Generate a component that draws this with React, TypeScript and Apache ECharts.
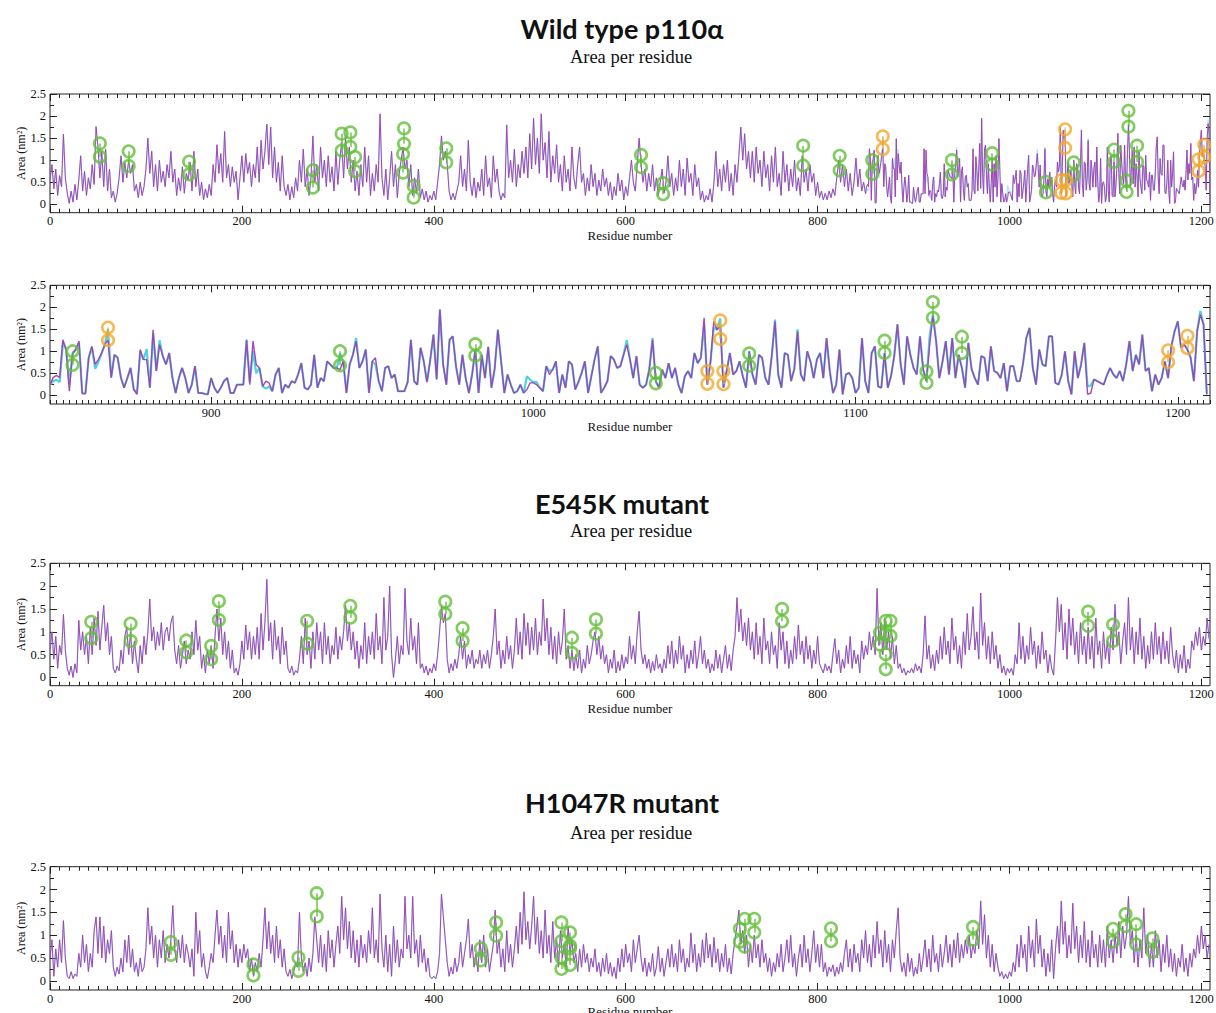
import React, { useEffect, useRef } from "react";
import * as echarts from "echarts";

// ---------- DATA ----------
// Wild type, residues 0..848, every 2nd residue
const WT_A_START = 0;
const WT_A_STEP = 2;
const WT_A = [
  0.55,0.9,0.35,0.8,0.2,0.65,0.4,1.59,0.6,0.25,0.02,0.3,0.05,0.45,0.1,0.55,1.1,0.3,0.75,0.2,0.6,0.35,0.9,0.45,1.76,
  1.3,0.6,1.2,0.4,1.25,0.3,0.8,0.15,0.3,0.05,0.25,0.6,1.1,0.5,0.95,0.6,1.0,0.7,0.9,0.3,0.45,0.15,0.5,0.2,0.4,
  0.8,1.5,0.7,1.2,0.4,0.9,0.3,1.0,0.5,0.75,0.4,0.9,0.6,1.2,0.5,0.8,0.2,0.6,0.3,0.85,0.25,0.7,0.55,0.95,0.3,
  1.2,0.4,0.8,0.2,0.5,0.1,0.35,0.15,0.45,0.2,0.9,0.5,1.35,0.7,1.15,0.5,1.65,0.6,0.9,0.4,0.85,0.5,0.75,0.1,0.6,
  1.1,0.5,1.15,0.7,0.95,0.4,0.9,0.6,1.3,0.5,1.45,0.8,1.2,1.82,0.9,1.75,0.6,1.3,0.5,0.95,0.3,1.1,0.4,0.2,0.45,
  0.1,0.4,0.15,0.6,0.3,1.0,0.5,1.25,0.4,0.8,0.2,0.6,1.55,0.5,0.9,0.3,1.3,0.6,1.0,0.4,1.1,0.5,0.85,0.3,1.2,
  0.45,1.0,1.4,0.6,1.5,0.8,1.3,0.5,1.0,0.3,0.75,0.2,0.9,0.4,1.3,0.5,1.1,0.2,0.7,0.3,0.9,0.5,2.05,0.6,0.2,
  0.8,0.1,0.6,1.2,0.4,0.9,0.15,0.7,1.0,1.3,0.8,1.0,0.4,0.9,0.2,0.6,0.25,0.8,0.15,0.35,0.1,0.3,0.05,0.2,0.1,
  0.3,0.1,0.5,0.9,1.55,1.0,1.2,0.9,0.3,0.1,0.25,0.1,0.3,0.5,1.1,0.4,0.8,0.3,1.45,0.5,0.2,0.6,0.15,0.5,0.3,
  0.8,0.2,1.1,0.4,0.6,0.15,1.1,0.5,0.8,0.3,0.1,0.25,0.15,1.8,0.6,1.0,0.5,1.25,0.4,0.9,0.6,1.2,0.7,1.3,0.6,
  1.6,0.8,1.95,0.9,1.5,0.7,2.05,1.0,1.4,0.6,1.65,0.5,1.1,0.7,1.35,0.5,0.9,0.3,1.1,0.5,0.8,0.3,1.3,0.6,0.35,
  0.9,1.3,0.5,0.7,0.2,0.6,0.3,0.9,0.4,0.7,0.2,0.55,0.3,0.8,0.4,0.6,0.2,0.5,0.1,0.4,0.2,0.7,0.3,0.55,0.1,
  0.4,0.2,0.6,1.0,0.5,0.3,0.9,1.5,0.9,0.5,0.8,0.3,0.7,0.4,0.9,0.3,0.6,0.2,0.5,0.8,0.25,0.5,1.1,0.4,0.7,
  0.2,0.6,0.3,1.0,0.4,0.8,0.2,1.05,0.5,0.7,0.2,0.9,0.4,0.6,0.1,0.3,0.05,0.2,0.1,0.35,0.05,0.5,1.2,0.4,0.8,
  0.3,0.9,0.5,1.0,0.3,0.7,0.2,0.9,0.5,1.1,1.75,1.0,1.6,0.8,1.2,0.6,1.2,0.5,1.3,0.7,1.0,0.4,1.2,0.6,0.9,
  0.3,1.1,0.5,1.3,0.4,0.7,0.2,1.2,0.5,0.9,0.3,0.8,0.4,1.0,0.3,0.6,0.2,1.1,0.5,0.8,0.3,0.9,0.5,0.7,0.2,
  0.5,0.15,0.3,0.1,0.25,0.1,0.3,0.15,0.35,0.2,0.6,1.0,0.5,0.9,0.4,0.8,0.3,0.7,0.2,0.5,1.05,0.4,0.8,0.3,0.5,
];

// Wild type, residues 850..1209, every residue - purple
const WT_B_START = 850;
const WT_B = [
  0.24,0.40,0.45,0.40,1.26,1.04,0.09,0.95,1.04,1.23,
  0.03,0.03,0.85,1.11,0.70,0.81,0.95,1.15,1.26,0.40,
  0.92,0.85,0.40,0.17,0.39,0.62,0.13,0.02,1.04,0.81,
  0.81,0.17,1.49,0.55,1.15,0.89,0.70,0.96,0.39,0.05,
  0.39,0.62,0.39,0.05,0.24,0.66,0.05,0.05,0.03,0.02,
  0.39,0.17,0.05,0.17,0.32,0.39,0.05,0.05,0.24,0.24,
  0.24,1.26,0.24,1.23,0.70,0.62,0.20,0.32,0.28,0.09,
  0.47,0.62,0.05,0.24,0.17,0.32,0.28,0.47,0.73,0.17,
  0.13,0.24,0.92,0.17,0.39,0.32,0.77,0.70,0.62,0.62,
  0.58,0.77,0.05,0.70,0.92,1.23,0.62,0.77,1.04,0.05,
  0.77,0.85,0.32,0.09,0.62,0.66,0.39,0.47,0.09,0.09,
  0.09,0.30,1.26,0.32,0.24,1.08,0.77,0.30,0.80,1.38,
  0.36,1.95,0.70,0.24,1.26,1.34,0.66,0.24,0.92,0.39,
  0.05,0.47,1.04,0.05,0.92,0.39,1.10,0.17,0.60,1.49,
  0.77,0.05,0.47,0.24,0.05,0.09,0.24,0.05,0.13,0.28,
  0.28,0.24,0.17,0.09,0.66,0.47,0.58,0.77,0.05,0.47,
  0.17,0.77,0.70,0.13,0.30,0.51,0.77,0.05,0.43,0.81,
  1.11,0.05,0.17,0.32,0.89,0.81,0.62,0.66,0.92,1.15,
  0.81,0.39,0.89,0.24,0.17,0.24,0.60,1.26,0.32,0.17,
  0.58,0.39,0.73,0.39,0.62,0.24,0.05,0.43,0.55,0.39,
  0.96,0.73,0.85,1.76,0.24,0.77,1.68,1.49,1.57,0.17,
  0.55,0.96,0.47,0.55,0.77,0.43,0.17,1.00,0.47,0.24,
  0.92,0.85,0.39,0.24,0.90,1.68,0.47,0.17,0.96,0.92,
  0.32,0.60,1.45,0.47,0.32,1.00,0.77,0.39,0.81,0.96,
  0.39,1.30,0.55,0.05,0.24,1.04,0.02,0.47,0.51,0.39,
  0.05,0.17,1.30,0.32,0.05,0.96,1.11,0.20,0.17,0.96,
  0.17,0.43,0.89,1.61,0.70,0.24,1.34,0.92,0.62,0.47,
  1.34,0.58,0.32,1.15,1.80,1.23,0.39,0.77,1.23,0.47,
  1.30,0.39,0.92,0.62,0.17,1.19,0.60,0.39,0.24,0.89,
  0.85,0.32,1.11,0.55,0.51,0.39,0.73,0.09,0.66,0.66,
  0.32,0.32,0.73,1.30,1.53,0.62,0.24,1.04,0.70,0.66,
  1.34,1.34,0.28,0.24,0.47,1.00,0.32,0.02,1.00,0.39,
  0.70,1.19,0.02,0.05,0.36,0.32,0.28,0.24,0.45,0.62,
  0.47,0.39,0.55,0.32,0.70,1.23,0.55,0.92,0.70,1.38,
  0.55,0.62,0.09,0.47,0.24,0.39,0.77,0.39,1.11,1.45,
  1.68,1.08,1.15,1.04,0.85,0.32,1.45,1.83,1.61,0.02,
];

// Wild type, residues 850..1209 - cyan
const WT_B_CYAN = [
  0.24,0.32,0.35,0.30,1.20,1.04,0.25,0.95,1.04,1.20,
  0.05,0.05,0.85,1.10,0.60,0.75,0.95,1.15,1.50,0.40,
  0.92,0.85,0.40,0.17,0.39,0.62,0.13,0.05,1.00,0.81,
  1.05,0.17,1.40,0.55,1.25,0.89,0.70,0.96,0.39,0.05,
  0.39,0.62,0.39,0.05,0.24,0.66,0.05,0.05,0.03,0.02,
  0.39,0.17,0.05,0.17,0.32,0.39,0.05,0.05,0.24,0.24,
  0.24,1.26,0.30,1.00,0.50,0.62,0.20,0.15,0.20,0.09,
  0.47,0.62,0.05,0.24,0.17,0.32,0.28,0.47,0.73,0.17,
  0.13,0.24,0.92,0.17,0.39,0.32,0.77,0.70,0.62,0.62,
  0.95,0.77,0.05,0.70,0.92,1.30,0.62,0.77,1.04,0.05,
  0.77,0.70,0.32,0.09,0.62,0.66,0.39,0.47,0.09,0.09,
  0.09,0.30,1.26,0.32,0.24,1.08,0.77,0.30,0.80,1.38,
  0.36,1.95,0.70,0.24,1.26,1.34,0.66,0.24,0.92,0.39,
  0.05,0.47,1.04,0.05,0.92,0.39,1.10,0.17,0.60,1.49,
  0.77,0.05,0.47,0.24,0.05,0.09,0.24,0.05,0.43,0.35,
  0.30,0.30,0.17,0.09,0.66,0.55,0.58,0.77,0.05,0.47,
  0.17,0.77,0.70,0.13,0.30,0.51,0.77,0.05,0.43,0.81,
  1.11,0.05,0.17,0.32,0.89,0.81,0.62,0.66,0.92,1.25,
  0.81,0.39,0.89,0.24,0.17,0.24,0.60,1.30,0.32,0.17,
  0.58,0.39,0.73,0.39,0.62,0.24,0.05,0.43,0.55,0.39,
  0.96,0.73,0.85,1.60,0.24,0.77,1.55,1.49,1.75,0.17,
  0.55,0.96,0.47,0.55,0.77,0.43,0.17,1.00,0.47,0.24,
  0.92,0.85,0.39,0.24,0.90,1.72,0.47,0.17,0.96,0.92,
  0.32,0.60,1.50,0.47,0.32,1.00,0.77,0.39,0.81,0.96,
  0.39,1.30,0.55,0.05,0.24,1.04,0.02,0.47,0.51,0.39,
  0.05,0.17,1.30,0.32,0.05,0.96,1.11,0.20,0.17,0.96,
  0.17,0.43,0.89,1.61,0.70,0.24,1.34,0.92,0.62,0.47,
  1.34,0.58,0.32,1.35,1.85,1.23,0.39,0.77,1.23,0.47,
  1.30,0.39,0.92,0.62,0.17,1.19,0.60,0.39,0.24,0.89,
  0.85,0.32,1.11,0.55,0.51,0.39,0.73,0.09,0.66,0.66,
  0.32,0.32,0.73,1.30,1.53,0.62,0.24,1.04,0.70,0.66,
  1.34,1.34,0.28,0.24,0.47,1.00,0.32,0.02,1.00,0.39,
  0.70,1.19,0.20,0.22,0.36,0.32,0.28,0.24,0.45,0.62,
  0.47,0.39,0.55,0.32,0.70,1.23,0.55,0.92,0.70,1.38,
  0.55,0.62,0.09,0.47,0.24,0.39,0.77,0.39,1.11,1.45,
  1.68,1.08,1.15,1.04,0.85,0.32,1.45,1.92,1.61,0.02,
];

// E545K mutant, residues 0..1208, every 2nd residue
const E545K_START = 0;
const E545K_STEP = 2;
const E545K = [
  0.6,1.0,0.4,0.9,0.2,0.7,0.5,1.38,0.6,0.2,0.05,0.25,0.0,0.3,0.1,1.25,0.6,1.0,0.5,0.9,0.3,1.1,0.5,1.3,0.7,
  1.45,0.6,1.1,1.58,0.8,1.2,0.5,0.9,0.2,0.1,0.25,0.15,0.6,0.3,0.9,1.1,0.5,1.0,0.3,0.8,0.4,0.1,0.7,0.3,0.9,
  0.5,1.0,1.72,0.8,1.1,0.6,1.0,0.7,1.2,0.6,1.0,1.1,0.8,1.2,1.35,0.6,0.3,0.7,0.2,0.5,0.8,0.3,0.6,0.4,1.0,
  0.5,1.25,0.6,0.9,0.2,0.5,0.1,0.6,0.3,0.7,0.2,0.9,1.5,0.8,1.3,0.5,1.0,0.4,0.8,0.2,0.6,0.1,0.2,0.05,0.3,
  0.8,0.4,1.15,0.6,1.0,0.4,0.9,0.5,1.1,0.4,1.4,0.6,1.2,2.15,0.8,1.2,0.4,1.25,0.6,0.9,0.3,1.1,0.5,0.8,0.2,
  0.1,0.25,0.05,0.15,0.1,0.4,0.9,0.3,1.3,0.5,0.8,0.2,1.0,0.4,1.2,0.6,1.0,0.3,1.2,0.5,0.9,0.3,0.7,0.5,1.1,
  0.4,0.9,0.6,1.0,1.58,0.8,1.2,0.6,1.0,0.4,0.8,0.2,0.7,0.4,1.2,0.3,0.9,0.5,1.0,0.4,1.4,0.6,0.9,0.3,1.75,
  0.6,0.9,2.0,0.5,0.0,0.4,0.9,0.3,0.7,0.5,1.95,0.8,0.5,1.3,0.6,0.9,0.3,1.2,0.2,0.3,0.1,0.25,0.05,0.2,0.1,
  0.3,0.15,0.5,1.0,1.55,1.2,1.4,0.4,0.1,0.3,0.15,0.4,0.2,0.5,0.9,0.4,0.8,0.2,0.5,0.3,0.6,0.2,0.4,0.3,0.6,
  0.2,0.5,0.3,0.6,0.2,0.5,0.9,1.5,0.5,0.8,0.2,0.6,0.3,0.9,0.4,0.7,0.2,0.6,1.3,0.5,1.0,0.4,1.4,0.7,1.2,
  0.5,1.1,0.6,1.3,0.5,1.0,0.7,1.72,0.8,1.3,0.5,1.1,0.4,0.9,0.3,1.0,0.5,0.8,1.5,0.4,0.7,0.2,0.6,0.15,0.5,
  0.2,0.6,0.1,0.4,0.2,0.7,0.3,0.5,0.8,1.0,0.5,0.9,0.4,0.7,0.3,0.5,0.1,0.4,0.2,0.6,0.1,0.35,0.15,0.5,0.2,
  0.45,0.3,0.9,0.4,0.7,0.3,1.0,1.45,0.6,0.3,0.5,0.2,0.4,0.1,0.35,0.15,0.5,0.2,0.3,0.1,0.4,0.2,0.7,0.3,0.8,
  0.2,0.6,0.3,0.9,0.4,0.7,0.1,0.5,0.2,0.6,0.3,0.8,0.2,0.5,0.9,0.3,0.6,0.2,0.4,0.1,0.3,0.15,0.6,0.2,0.5,
  0.1,0.4,0.7,0.2,0.5,0.15,0.6,0.9,1.75,1.0,1.5,0.8,1.2,0.7,1.3,0.6,1.0,0.4,1.2,0.5,0.9,0.3,1.3,0.6,0.8,
  0.3,1.0,0.5,0.7,0.2,1.2,0.6,1.0,0.3,0.8,0.2,0.6,0.3,0.9,0.4,1.15,0.5,0.8,0.3,0.9,0.4,0.7,0.2,0.6,0.3,
  0.9,0.3,0.2,0.1,0.3,0.15,0.25,0.1,0.5,0.85,0.3,0.6,0.1,0.4,0.2,0.7,0.3,0.9,0.2,0.6,0.3,0.5,0.1,0.8,0.4,
  0.7,0.5,1.0,0.6,0.9,0.5,1.95,0.7,1.2,0.5,1.3,0.6,1.0,0.4,0.9,0.3,0.7,0.2,0.3,0.1,0.2,0.05,0.15,0.1,0.2,
  0.1,0.3,0.15,0.25,0.1,0.5,1.35,0.4,0.7,0.2,0.5,0.15,0.6,0.3,0.9,0.4,1.1,0.5,0.8,0.3,1.3,0.6,0.9,0.3,0.7,
  0.2,1.0,0.5,1.4,0.6,0.9,1.55,0.6,1.0,0.4,1.85,0.7,1.2,0.4,0.9,0.3,1.0,0.4,0.7,0.2,0.5,0.1,0.25,0.05,0.2,
  0.1,0.2,0.05,0.5,0.3,1.2,0.4,0.9,0.3,0.7,0.4,1.1,0.5,0.8,0.2,0.7,0.3,1.0,0.4,0.6,0.1,0.5,0.2,0.05,0.8,
  1.75,1.0,1.6,0.6,1.2,0.4,1.5,0.7,1.3,0.5,1.0,0.3,1.2,0.5,0.9,0.3,1.1,0.4,0.9,0.2,1.3,0.5,0.8,0.2,1.0,
  0.4,0.8,0.3,1.1,0.6,1.6,0.7,1.0,0.3,0.8,1.2,0.5,1.75,0.6,1.1,0.3,1.0,0.5,1.3,0.4,0.9,0.2,0.7,0.3,1.0,
  0.4,1.2,0.5,0.9,0.3,1.0,0.4,0.8,0.3,1.1,0.5,0.2,0.6,0.1,0.5,0.2,0.7,0.1,0.4,0.2,0.8,0.6,1.0,0.7,1.1,
  0.6,0.9,0.7,1.3,0.85,
];

// H1047R mutant, residues 0..1208, every 2nd residue
const H1047R_START = 0;
const H1047R_STEP = 2;
const H1047R = [
  0.5,0.9,0.1,0.7,0.3,0.9,0.4,1.32,0.5,0.1,0.05,0.2,0.05,0.15,0.1,0.6,0.3,1.0,0.4,0.8,0.2,0.6,0.3,1.1,1.4,
  0.6,1.4,0.5,1.2,0.4,0.9,0.6,1.1,0.3,0.1,0.3,0.15,0.5,0.2,0.9,0.4,1.0,0.3,0.7,0.2,0.4,0.1,0.5,0.2,0.3,
  0.7,1.6,0.8,1.2,0.5,1.0,0.3,0.9,0.5,1.1,0.4,0.8,0.5,0.9,1.65,0.7,0.4,0.9,0.5,1.0,0.4,0.8,0.6,0.3,0.7,
  0.1,1.5,0.6,1.1,0.3,0.6,0.2,0.05,0.3,0.6,0.4,1.0,1.55,0.8,1.2,0.5,1.0,0.4,1.5,0.7,1.1,0.4,0.8,0.3,0.7,
  0.4,0.8,0.5,0.7,0.2,0.5,0.1,0.4,0.2,0.6,0.3,0.9,1.6,0.7,1.3,0.6,1.0,0.4,1.2,0.5,0.9,0.3,0.7,0.2,0.1,
  0.25,0.05,0.2,0.4,0.3,1.5,0.5,0.2,0.4,0.1,0.5,0.2,0.6,1.4,0.9,0.4,1.0,0.3,0.8,0.2,1.1,0.5,0.9,0.3,0.8,
  1.2,0.6,1.85,0.9,1.6,0.7,1.3,0.5,1.1,0.4,0.9,0.3,1.0,0.5,0.8,0.4,1.1,0.6,1.6,0.5,0.9,0.4,1.9,0.7,0.3,
  1.0,0.2,0.8,0.1,1.2,0.4,0.9,0.3,0.7,0.5,1.85,0.7,1.0,0.5,1.85,0.6,0.9,0.3,1.0,0.4,0.7,0.2,0.5,0.1,0.05,
  0.1,0.05,0.2,0.6,1.9,1.4,0.9,0.4,0.1,0.3,0.15,0.5,0.2,0.4,0.85,0.3,0.6,0.9,1.35,0.5,0.8,0.3,0.6,0.2,0.9,
  0.4,1.0,0.3,0.7,0.2,0.5,0.8,1.55,0.6,0.9,0.3,0.7,0.2,1.1,0.4,0.8,0.3,0.7,1.2,0.6,1.5,0.8,1.95,0.9,1.3,
  0.7,1.2,1.85,0.8,1.4,0.6,1.1,0.5,1.55,0.6,1.0,0.4,1.3,0.5,0.9,0.3,1.1,0.5,0.8,0.3,1.2,0.6,0.9,0.4,0.6,
  0.2,0.7,0.3,0.8,0.4,0.6,0.2,0.5,0.3,0.7,0.2,0.4,0.1,0.5,0.2,0.6,0.15,0.4,0.1,0.3,0.05,0.5,0.2,0.7,0.3,
  0.8,0.4,0.6,0.2,0.9,0.4,0.7,1.0,0.5,0.2,0.5,0.1,0.4,0.2,0.6,0.1,0.3,0.75,0.2,0.5,0.1,0.4,0.7,0.3,0.8,
  0.3,0.6,0.2,0.9,0.4,0.7,0.2,0.5,0.3,1.05,0.4,0.8,0.2,0.6,0.3,0.9,0.4,1.05,0.5,0.8,0.3,0.95,0.4,0.7,0.2,
  0.6,0.3,0.8,0.2,0.5,0.15,0.6,0.9,1.2,1.55,0.8,1.1,0.6,1.0,0.3,0.8,0.4,1.0,0.5,0.8,0.3,0.9,0.4,0.6,0.2,
  0.5,0.1,0.4,0.2,0.6,0.3,0.8,0.2,0.5,0.9,0.4,1.0,0.3,0.6,0.1,0.5,0.8,0.3,1.0,0.4,0.7,0.2,0.6,1.1,0.4,
  0.8,0.3,0.8,0.2,0.4,0.1,0.3,0.2,0.35,0.1,0.3,0.15,0.4,0.2,0.6,0.9,0.3,0.7,0.2,0.8,0.4,0.6,0.2,0.9,0.5,
  1.1,0.4,0.8,0.3,1.0,0.5,1.3,0.6,0.9,0.3,1.1,0.4,0.8,0.2,0.9,0.5,1.1,1.6,0.5,0.2,0.4,0.1,0.6,0.2,0.5,
  0.1,0.3,0.15,0.6,0.2,0.5,0.9,0.3,0.7,0.2,1.0,0.4,0.6,0.2,0.8,0.3,0.6,1.0,0.4,0.8,0.3,0.9,0.5,1.05,0.4,
  0.8,0.5,0.9,0.6,1.0,0.5,0.8,0.6,1.1,0.7,1.75,0.8,1.45,0.5,1.0,0.3,0.8,0.2,0.6,0.3,0.1,0.2,0.05,0.15,0.05,
  0.2,0.1,0.4,0.2,0.8,0.3,1.0,0.5,0.8,0.2,1.2,0.5,0.9,0.3,1.35,0.6,1.0,0.3,0.7,0.1,0.6,0.2,0.9,0.05,0.7,
  1.2,0.6,1.75,0.8,1.3,0.5,1.0,0.6,1.7,0.7,1.2,0.4,1.0,0.5,1.3,0.4,0.9,0.3,1.1,0.5,0.8,0.3,1.0,0.4,0.9,
  0.3,1.2,0.5,0.9,0.4,1.0,0.6,1.3,0.5,1.2,0.7,1.0,1.85,0.8,1.1,0.4,1.0,0.3,0.9,0.5,1.6,0.6,1.0,0.3,0.8,
  0.3,1.1,0.5,0.9,0.2,0.8,0.4,1.0,0.3,0.7,0.2,0.6,0.1,0.5,0.3,0.8,0.2,0.5,0.1,0.6,0.3,0.7,0.5,1.0,0.6,
  1.2,0.7,1.0,0.5,0.8,
];

// Marked residues: [residue, upper value, lower value]
const WT_GREEN = [
  [52,1.38,1.08],[82,1.2,0.87],[145,0.97,0.68],[274,0.77,0.38],[304,1.6,1.22],[313,1.63,1.3],
  [318,1.07,0.75],[369,1.72,1.37],[368,1.14,0.72],[379,0.42,0.15],[413,1.27,0.95],[616,1.12,0.84],
  [639,0.48,0.23],[785,1.33,0.88],[823,1.1,0.77],[857,1.0,0.69],[940,1.0,0.68],[982,1.16,0.9],
  [1038,0.51,0.27],[1067,0.95,0.67],[1109,1.24,0.96],[1122,0.54,0.28],[1124,2.12,1.76],[1133,1.33,0.96],
];
const WT_ORANGE = [
  [868,1.54,1.25],[1054,0.55,0.26],[1058,1.7,1.28],[1059,0.55,0.25],[1197,1.02,0.75],[1203,1.35,1.07],
];
const E545K_GREEN = [
  [43,1.22,0.86],[84,1.18,0.8],[142,0.81,0.55],[168,0.69,0.4],[176,1.67,1.26],[268,1.24,0.74],
  [313,1.57,1.31],[412,1.66,1.39],[430,1.08,0.8],[544,0.87,0.54],[569,1.27,0.96],[763,1.5,1.23],
  [865,0.98,0.72],[871,1.24,0.95],[876,1.24,0.91],[871,0.51,0.18],[1082,1.44,1.13],[1108,1.16,0.8],
];
const H1047R_GREEN = [
  [126,0.85,0.57],[212,0.36,0.12],[259,0.51,0.22],[278,1.92,1.41],[449,0.71,0.45],[465,1.28,0.99],
  [533,1.28,0.87],[533,0.51,0.26],[542,1.06,0.77],[542,0.71,0.35],[719,1.14,0.86],[724,1.36,0.75],
  [734,1.36,1.06],[814,1.15,0.87],[962,1.18,0.9],[1108,1.14,0.86],[1121,1.46,1.2],[1132,1.24,0.8],
  [1149,0.93,0.64],
];

const X_TICKS_FULL = [0, 200, 400, 600, 800, 1000, 1200];
const X_TICKS_ZOOM = [900, 1000, 1100, 1200];
const Y_TICKS = [0, 0.5, 1, 1.5, 2, 2.5];
const Y_MINOR = [0.25, 0.75, 1.25, 1.75, 2.25];

const TITLES = ["Wild type p110α", "E545K mutant", "H1047R mutant"];
const SUBTITLE = "Area per residue";
const X_NAME = "Residue number";
const Y_NAME = "Area (nm²)";

// ---------- STYLE ----------
const SERIF = "'Liberation Serif', 'DejaVu Serif', serif";
const SANS = "Lato, 'Open Sans', 'Noto Sans', sans-serif";
const PURPLE = "#a33db2";
const CYAN = "#4fd3df";
const GREEN = "#63bf3a";
const ORANGE = "#f2a72a";

const toPairs = (arr: number[], start: number, step: number) =>
  arr.map((v, i) => [start + i * step, v]);

const range = (a: number, b: number, s: number, skip: number[]) => {
  const out: number[] = [];
  for (let v = a; v <= b + 1e-9; v += s) {
    const r = Math.round(v * 100) / 100;
    if (!skip.some((k) => Math.abs(k - r) < 1e-6)) out.push(r);
  }
  return out;
};

type Panel = {
  top: number;
  height: number;
  xmin: number;
  xmax: number;
  yminV: number;
  major: number[];
  minor: number[];
  purple: number[][];
  cyan: number[][];
  green: number[][];
  orange: number[][];
  thin: boolean;
  nameGap: number;
};

export default function App() {
  const ref = useRef<HTMLDivElement>(null);

  useEffect(() => {
    if (!ref.current) return;
    const chart = echarts.init(ref.current, undefined, { renderer: "svg" });

    const wtPurple = [...toPairs(WT_A, WT_A_START, WT_A_STEP), ...toPairs(WT_B, WT_B_START, 1)];
    const wtCyan = [...toPairs(WT_A, WT_A_START, WT_A_STEP), ...toPairs(WT_B_CYAN, WT_B_START, 1)];
    const e545 = toPairs(E545K, E545K_START, E545K_STEP);
    const h1047 = toPairs(H1047R, H1047R_START, H1047R_STEP);

    const fullMinor = range(0, 1209, 10, X_TICKS_FULL);
    const zoomMinor = range(850, 1210, 2, X_TICKS_ZOOM);

    const panels: Panel[] = [
      { top: 94, height: 118.7, xmin: 0, xmax: 1209, yminV: -0.19, major: X_TICKS_FULL, minor: fullMinor,
        purple: wtPurple, cyan: wtCyan, green: WT_GREEN, orange: WT_ORANGE, thin: true, nameGap: 16 },
      { top: 285.3, height: 118.7, xmin: 850, xmax: 1210, yminV: -0.2, major: X_TICKS_ZOOM, minor: zoomMinor,
        purple: toPairs(WT_B, WT_B_START, 1), cyan: toPairs(WT_B_CYAN, WT_B_START, 1),
        green: WT_GREEN.filter((p) => p[0] >= 850), orange: WT_ORANGE.filter((p) => p[0] >= 850),
        thin: false, nameGap: 16 },
      { top: 563.3, height: 122.4, xmin: 0, xmax: 1209, yminV: -0.18, major: X_TICKS_FULL, minor: fullMinor,
        purple: e545, cyan: e545, green: E545K_GREEN, orange: [], thin: true, nameGap: 16 },
      { top: 866.7, height: 123.3, xmin: 0, xmax: 1209, yminV: -0.2, major: X_TICKS_FULL, minor: fullMinor,
        purple: h1047, cyan: h1047, green: H1047R_GREEN, orange: [], thin: true, nameGap: 15 },
    ];

    const grids: any[] = [];
    const xAxes: any[] = [];
    const yAxes: any[] = [];
    const series: any[] = [];
    const tickColor = "#222";
    const labelStyle = { color: "#111", fontFamily: SERIF, fontSize: 12.5, lineHeight: 13 };
    const noLine = { show: false, onZero: false };
    const fmt = (v: number) => String(v);

    panels.forEach((p, g) => {
      grids.push({
        left: 50, top: p.top, width: 1160, height: p.height,
        show: true, borderColor: "#222", borderWidth: 1, backgroundColor: "transparent",
        containLabel: false, outerBoundsMode: "none",
      });
      const xb = { type: "value", gridIndex: g, min: p.xmin, max: p.xmax,
        axisLine: noLine, splitLine: { show: false } };
      const xIdx = xAxes.length;
      xAxes.push(
        { ...xb, position: "bottom",
          axisTick: { show: true, inside: true, length: 7, customValues: p.major, lineStyle: { color: tickColor } },
          axisLabel: { show: true, customValues: p.major, margin: 2, formatter: fmt, ...labelStyle },
          name: X_NAME, nameLocation: "middle", nameGap: p.nameGap, nameMoveOverlap: false,
          nameTextStyle: { fontFamily: SERIF, fontSize: 13, lineHeight: 13, color: "#111" } },
        { ...xb, position: "bottom",
          axisTick: { show: true, inside: true, length: 4, customValues: p.minor, lineStyle: { color: tickColor } },
          axisLabel: { show: false } },
        { ...xb, position: "top",
          axisTick: { show: true, inside: true, length: 7, customValues: p.major, lineStyle: { color: tickColor } },
          axisLabel: { show: false } },
        { ...xb, position: "top",
          axisTick: { show: true, inside: true, length: 4, customValues: p.minor, lineStyle: { color: tickColor } },
          axisLabel: { show: false } },
      );
      const yb = { type: "value", gridIndex: g, min: p.yminV, max: 2.5,
        axisLine: noLine, splitLine: { show: false } };
      const yIdx = yAxes.length;
      yAxes.push(
        { ...yb, position: "left",
          axisTick: { show: true, inside: true, length: 7, customValues: Y_TICKS, lineStyle: { color: tickColor } },
          axisLabel: { show: true, customValues: Y_TICKS, margin: 4, formatter: fmt, ...labelStyle },
          name: Y_NAME, nameLocation: "middle", nameGap: 23, nameRotate: 90, nameMoveOverlap: false,
          nameTextStyle: { fontFamily: SERIF, fontSize: 12, color: "#111" } },
        { ...yb, position: "left",
          axisTick: { show: true, inside: true, length: 4, customValues: Y_MINOR, lineStyle: { color: tickColor } },
          axisLabel: { show: false } },
        { ...yb, position: "right",
          axisTick: { show: true, inside: true, length: 7, customValues: Y_TICKS, lineStyle: { color: tickColor } },
          axisLabel: { show: false } },
        { ...yb, position: "right",
          axisTick: { show: true, inside: true, length: 4, customValues: Y_MINOR, lineStyle: { color: tickColor } },
          axisLabel: { show: false } },
      );

      const common = { xAxisIndex: xIdx, yAxisIndex: yIdx };
      series.push({
        ...common, type: "line", data: p.cyan, showSymbol: false, symbol: "none",
        lineStyle: { color: CYAN, width: p.thin ? 1.4 : 2.2, opacity: p.thin ? 0.45 : 1 }, z: 2,
      });
      series.push({
        ...common, type: "line", data: p.purple, showSymbol: false, symbol: "none",
        lineStyle: { color: PURPLE, width: p.thin ? 1 : 1.4, opacity: 0.95 }, z: 3,
      });
      const addMarks = (pairs: number[][], color: string) => {
        if (!pairs.length) return;
        series.push({
          ...common, type: "lines", coordinateSystem: "cartesian2d", polyline: false,
          data: pairs.map((q) => ({ coords: [[q[0], q[1]], [q[0], q[2]]] })),
          lineStyle: { color, width: 1.5, opacity: 0.9 }, z: 4,
        });
        series.push({
          ...common, type: "scatter", symbol: "circle", symbolSize: 11.5,
          data: pairs.flatMap((q) => [[q[0], q[1]], [q[0], q[2]]]),
          itemStyle: { color: "rgba(255,255,255,0)", borderColor: color, borderWidth: 2.6 }, z: 5,
        });
      };
      addMarks(p.green, GREEN);
      addMarks(p.orange, ORANGE);
    });

    const text = (t: string, x: number, y: number, font: string) => ({
      type: "text", x, y,
      style: { text: t, font, fill: "#111", align: "center", verticalAlign: "middle",
        textAlign: "center", textVerticalAlign: "middle" },
    });
    const graphics = [
      text(TITLES[0], 622, 28, `bold 27px ${SANS}`),
      text(SUBTITLE, 631, 57, `18.5px ${SERIF}`),
      text(TITLES[1], 622, 503, `bold 27px ${SANS}`),
      text(SUBTITLE, 631, 531, `18.5px ${SERIF}`),
      text(TITLES[2], 622, 802, `bold 27px ${SANS}`),
      text(SUBTITLE, 631, 833, `18.5px ${SERIF}`),
    ];

    chart.setOption({
      animation: false,
      backgroundColor: "#fff",
      grid: grids,
      xAxis: xAxes,
      yAxis: yAxes,
      series,
      graphic: { elements: graphics },
    });

    return () => chart.dispose();
  }, []);

  return (
    <div
      ref={ref}
      style={{ position: "fixed", left: 0, top: 0, width: 1216, height: 1013, background: "#fff" }}
    />
  );
}
